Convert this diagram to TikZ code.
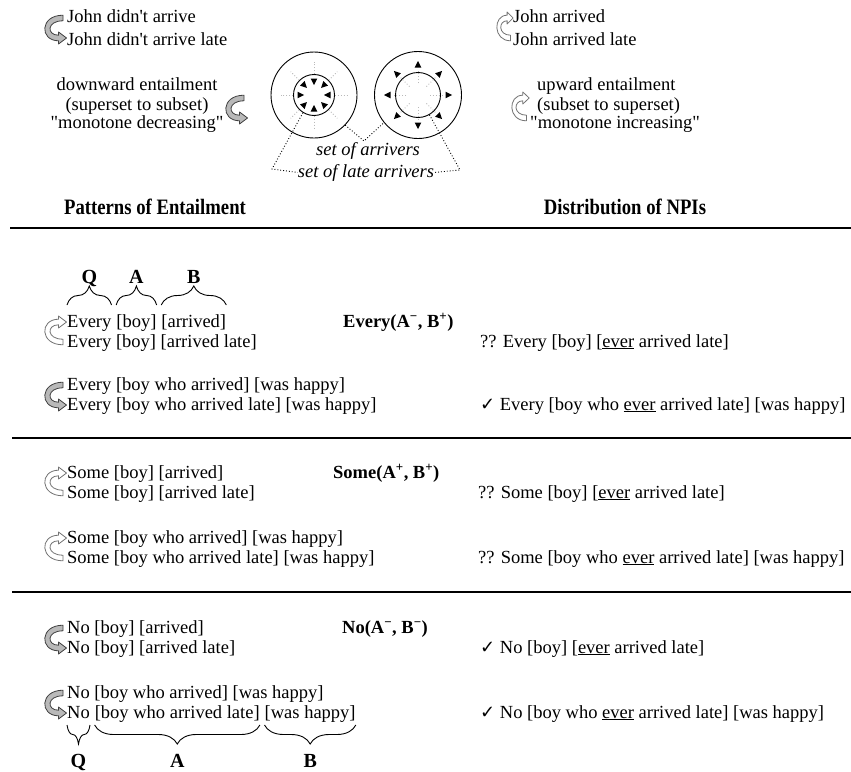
\documentclass[tikz,border=0pt]{standalone}
\usepackage{fontspec}
\setmainfont{Liberation Serif}
\newfontfamily\plainserif{Liberation Serif}
\newfontfamily\symfont{DejaVu Sans}
\usetikzlibrary{decorations.pathreplacing, calc}

\newcommand\chkmark{{\symfont\fontsize{18}{18}\selectfont ✓}}
\newcommand\dq{{\plainserif\symbol{34}}}

\tikzset{
  txt/.style={anchor=base west, inner sep=0pt, font=\fontsize{18.5}{20}\selectfont},
  mid/.style={anchor=base, inner sep=0pt, font=\fontsize{18.5}{20}\selectfont},
  lbl/.style={anchor=base, inner sep=0pt, font=\fontsize{20}{22}\selectfont\bfseries},
  formula/.style={anchor=base west, inner sep=0pt, font=\fontsize{18.5}{20}\selectfont\bfseries},
  head/.style={anchor=base, inner sep=0pt, font=\fontsize{22}{24}\selectfont\bfseries},
  setlbl/.style={anchor=base, inner sep=0pt, font=\fontsize{18.5}{20}\selectfont\itshape},
  ring/.style={circle, draw, line width=0.9pt, inner sep=0pt},
  leader/.style={dotted, line width=0.9pt},
  ray/.style={gray!55, dotted, line width=0.9pt},
  bigrule/.style={line width=2.6pt},
  secrule/.style={line width=1.8pt},
  brcup/.style={decorate, decoration={brace, amplitude=19pt}, line width=0.9pt},
  brcdown/.style={decorate, decoration={brace, amplitude=19pt, mirror}, line width=0.9pt},
  % filled curved band arrow, head at the lower line
  downarr/.pic={
    \draw[line width=0.8pt, draw=black!75, fill=gray!55, line join=round]
      (18,-2.8) .. controls (-5.5,-2.8) and (-5.5,22.8) .. (13.5,22.8)
      -- (13.5,26) -- (21.5,20) -- (13.5,14) -- (13.5,17.2)
      .. controls (1.5,17.2) and (1.5,2.8) .. (18,2.8) -- cycle;
  },
  % hollow curved band arrow, head at the upper line
  uparr/.pic={
    \draw[line width=0.8pt, draw=black!55, fill=white, line join=round]
      (18,22.8) .. controls (-5.5,22.8) and (-5.5,-2.8) .. (13.5,-2.8)
      -- (13.5,-6) -- (21.5,0) -- (13.5,6) -- (13.5,2.8)
      .. controls (1.5,2.8) and (1.5,17.2) .. (18,17.2) -- cycle;
  },
}

\begin{document}
\begin{tikzpicture}[x=1pt, y=-1pt]
\useasboundingbox (0,0) rectangle (851,771);
\fill[white] (0,0) rectangle (851,771);
\clip (0,0) rectangle (851,771);

% ---------- top: monotonicity sketch ----------
\pic at (45,18) {downarr};
\node[txt] (jd1) at (67,23) {John didn\textquotesingle t arrive};
\node[txt] (jd2) at (67,45) {John didn\textquotesingle t arrive late};

\node[mid] (dw1) at (137,90) {downward entailment};
\node[mid] (dw2) at (137,110) {(superset to subset)};
\node[mid] (dw3) at (137,128) {\dq monotone decreasing\dq};
\pic at (226,98) {downarr};

\pic[xscale=0.75] at (497,18) {uparr};
\node[txt] (ja1) at (513,23) {John arrived};
\node[txt] (ja2) at (513,45) {John arrived late};

\node[txt] (uw1) at (537,90) {upward entailment};
\node[txt] (uw2) at (537,110) {(subset to superset)};
\node[txt] (uw3) at (530,128) {\dq monotone increasing\dq};
\pic[xscale=0.8] at (512,98) {uparr};

% two nested sets
\node[ring, minimum size=86pt] (Lout) at (314,95) {};
\node[ring, minimum size=41pt] (Lin) at (314,95) {};
\node[ring, minimum size=87pt] (Rout) at (418,95) {};
\node[ring, minimum size=45pt] (Rin) at (418,95) {};

\foreach \a in {0,45,...,315} {
  \draw[ray] ($(Lin.center)+(\a:21)$) -- ($(Lin.center)+(\a:33)$);
  \fill ($(Lin.center)+(\a:10)$) -- ($(Lin.center)+(\a:16.5)+(\a+90:3.3)$)
        -- ($(Lin.center)+(\a:16.5)+(\a-90:3.3)$) -- cycle;
  \draw[ray] ($(Rin.center)+(\a:12)$) -- ($(Rin.center)+(\a:26)$);
  \fill ($(Rin.center)+(\a:34)$) -- ($(Rin.center)+(\a:27.5)+(\a+90:3.3)$)
        -- ($(Rin.center)+(\a:27.5)+(\a-90:3.3)$) -- cycle;
}

\node[setlbl] (arrv) at (368,155) {set of arrivers};
\node[setlbl] (late) at (366,177) {set of late arrivers};

\coordinate (fork) at (364,141);
\coordinate (lbend) at (272,169);
\coordinate (rbend) at (460,170);
\draw[leader] (Lin.238) -- (lbend) -- (late.west);
\draw[leader] (Lout.316) -- (fork) -- (Rout.219);
\draw[leader] (Rin.300) -- (rbend) -- (late.east);

% ---------- column heads ----------
\node[head] (hpat) at (155,214) {\scalebox{0.85}[1]{Patterns of Entailment}};
\node[head] (hnpi) at (625,214) {\scalebox{0.85}[1]{Distribution of NPIs}};
\draw[bigrule] (10,228) -- (851,228);

% ---------- every ----------
\node[txt] (eq) at (67,327) {Every};
\node[txt] (ea) at ([xshift=4.6pt]eq.base east) {[boy]};
\node[txt] (eb) at ([xshift=4.6pt]ea.base east) {[arrived]};
\draw[brcup] (eq.west |- 0,305) -- (eq.east |- 0,305);
\draw[brcup] (ea.west |- 0,305) -- (ea.east |- 0,305);
\draw[brcup] (eb.west |- 0,305) -- (eb.east |- 0,305);
\node[lbl] (lq) at (eq.base |- 0,283) {Q};
\node[lbl] (la) at (ea.base |- 0,283) {A};
\node[lbl] (lb) at (eb.base |- 0,283) {B};

\node[txt] (e2) at (67,347) {Every [boy] [arrived late]};
\node[formula] (fe) at (343,327) {Every(A\textsuperscript{−}, B\textsuperscript{+})};
\node[txt] (ne1) at (480,347) {?? Every [boy] [\underline{ever} arrived late]};
\pic at (45,322) {uparr};

\node[txt] (e3) at (67,390) {Every [boy who arrived] [was happy]};
\node[txt] (e4) at (67,410) {Every [boy who arrived late] [was happy]};
\node[txt] (ne2) at (480,410) {\chkmark{} Every [boy who \underline{ever} arrived late] [was happy]};
\pic at (45,385) {downarr};

\draw[secrule] (12,438) -- (851,438);

% ---------- some ----------
\node[txt] (s1) at (67,478) {Some [boy] [arrived]};
\node[txt] (s2) at (67,498) {Some [boy] [arrived late]};
\node[formula] (fs) at (333,478) {Some(A\textsuperscript{+}, B\textsuperscript{+})};
\node[txt] (ns1) at (478,498) {?? Some [boy] [\underline{ever} arrived late]};
\pic at (45,473) {uparr};

\node[txt] (s3) at (67,543) {Some [boy who arrived] [was happy]};
\node[txt] (s4) at (67,563) {Some [boy who arrived late] [was happy]};
\node[txt] (ns2) at (478,563) {?? Some [boy who \underline{ever} arrived late] [was happy]};
\pic at (45,538) {uparr};

\draw[secrule] (12,592) -- (851,592);

% ---------- no ----------
\node[txt] (n1) at (67,633) {No [boy] [arrived]};
\node[txt] (n2) at (67,653) {No [boy] [arrived late]};
\node[formula] (fn) at (342,633) {No(A\textsuperscript{−}, B\textsuperscript{−})};
\node[txt] (nn1) at (480,653) {\chkmark{} No [boy] [\underline{ever} arrived late]};
\pic at (45,628) {downarr};

\node[txt] (n3) at (67,698) {No [boy who arrived] [was happy]};
\node[txt] (nq) at (67,718) {No};
\node[txt] (na) at ([xshift=4.6pt]nq.base east) {[boy who arrived late]};
\node[txt] (nb) at ([xshift=4.6pt]na.base east) {[was happy]};
\node[txt] (nn2) at (480,718) {\chkmark{} No [boy who \underline{ever} arrived late] [was happy]};
\pic at (45,693) {downarr};

\draw[brcdown] (nq.west |- 0,725) -- (nq.east |- 0,725);
\draw[brcdown] (na.west |- 0,725) -- (na.east |- 0,725);
\draw[brcdown] (nb.west |- 0,725) -- (nb.east |- 0,725);
\node[lbl] (bq) at (nq.base |- 0,767) {Q};
\node[lbl] (ba) at (na.base |- 0,767) {A};
\node[lbl] (bb) at (nb.base |- 0,767) {B};
\end{tikzpicture}
\end{document}
